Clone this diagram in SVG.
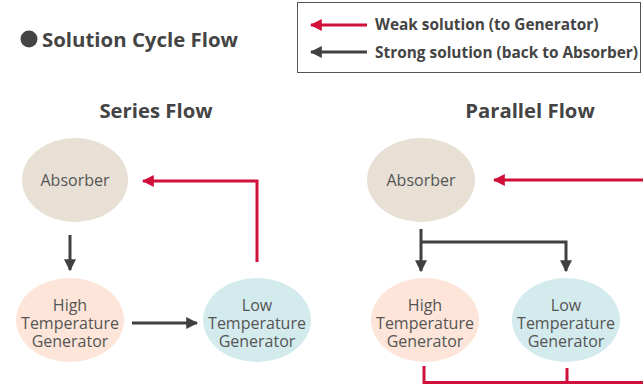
<svg xmlns="http://www.w3.org/2000/svg" width="643" height="386" viewBox="0 0 643 386">
<style>
.title{font-family:"Open Sans","Noto Sans",sans-serif;font-weight:bold;fill:#444}
.leg{font-family:"Open Sans","Noto Sans",sans-serif;font-weight:bold;font-size:15.4px;fill:#444}
.lbl{font-family:"Open Sans","Noto Sans",sans-serif;font-size:16px;fill:#555;text-anchor:middle}
.red{stroke:#d0103a;stroke-width:3;fill:none}
.blk{stroke:#404040;stroke-width:3;fill:none}
</style>
<defs>
<marker id="ar" viewBox="0 0 10 10" refX="9" refY="5" markerWidth="4" markerHeight="4" orient="auto" markerUnits="strokeWidth"><path d="M0,0 L10,5 L0,10 Z" fill="#d0103a"/></marker>
<marker id="ab" viewBox="0 0 10 10" refX="9" refY="5" markerWidth="4" markerHeight="4" orient="auto" markerUnits="strokeWidth"><path d="M0,0 L10,5 L0,10 Z" fill="#404040"/></marker>
</defs>
<rect width="643" height="386" fill="#fff"/>
<g id="title">
<circle cx="29" cy="39" r="8.5" fill="#444"/>
<text class="title" x="42" y="46.5" font-size="20.4">Solution Cycle Flow</text>
</g>
<g id="legend">
<rect x="297.5" y="2.5" width="343" height="70" fill="#fff" stroke="#555" stroke-width="1"/>
<line class="red" x1="367" y1="25" x2="311" y2="25" marker-end="url(#ar)"/>
<text class="leg" x="375" y="30">Weak solution (to Generator)</text>
<line class="blk" x1="367" y1="52" x2="311" y2="52" marker-end="url(#ab)"/>
<text class="leg" x="375" y="57.5">Strong solution (back to Absorber)</text>
</g>
<text class="title" x="156" y="118" font-size="20.3" text-anchor="middle">Series Flow</text>
<text class="title" x="530" y="118" font-size="20.3" text-anchor="middle">Parallel Flow</text>
<g id="s-absorber">
<ellipse cx="75" cy="180" rx="53" ry="42" fill="#e8e0d5"/>
<text class="lbl" x="75" y="185.5">Absorber</text>
</g>
<g id="s-high">
<ellipse cx="70" cy="320" rx="54" ry="42" fill="#fde5d9"/>
<text class="lbl" x="70" y="310.5">High<tspan x="70" dy="18">Temperature</tspan><tspan x="70" dy="18">Generator</tspan></text>
</g>
<g id="s-low">
<ellipse cx="257" cy="320" rx="54" ry="42" fill="#d4ebee"/>
<text class="lbl" x="257" y="310.5">Low<tspan x="257" dy="18">Temperature</tspan><tspan x="257" dy="18">Generator</tspan></text>
</g>
<g id="p-absorber">
<ellipse cx="421" cy="180" rx="54" ry="42" fill="#e8e0d5"/>
<text class="lbl" x="421" y="185.5">Absorber</text>
</g>
<g id="p-high">
<ellipse cx="425" cy="320" rx="54" ry="42" fill="#fde5d9"/>
<text class="lbl" x="425" y="310.5">High<tspan x="425" dy="18">Temperature</tspan><tspan x="425" dy="18">Generator</tspan></text>
</g>
<g id="p-low">
<ellipse cx="566" cy="320" rx="54" ry="42" fill="#d4ebee"/>
<text class="lbl" x="566" y="310.5">Low<tspan x="566" dy="18">Temperature</tspan><tspan x="566" dy="18">Generator</tspan></text>
</g>
<g id="connectors">
<line class="blk" x1="70" y1="235" x2="70" y2="270" marker-end="url(#ab)"/>
<line class="blk" x1="132" y1="323" x2="197" y2="323" marker-end="url(#ab)"/>
<polyline class="red" points="257,262 257,181 143,181" marker-end="url(#ar)"/>
<line class="blk" x1="421" y1="229" x2="421" y2="271" marker-end="url(#ab)"/>
<polyline class="blk" points="421,242 566,242 566,271" marker-end="url(#ab)"/>
<polyline class="red" points="645,383 645,180 494,180" marker-end="url(#ar)"/>
<polyline class="red" points="424,366 424,382.5 645,382.5"/>
<line class="red" x1="567" y1="368" x2="567" y2="382"/>
</g>
</svg>
